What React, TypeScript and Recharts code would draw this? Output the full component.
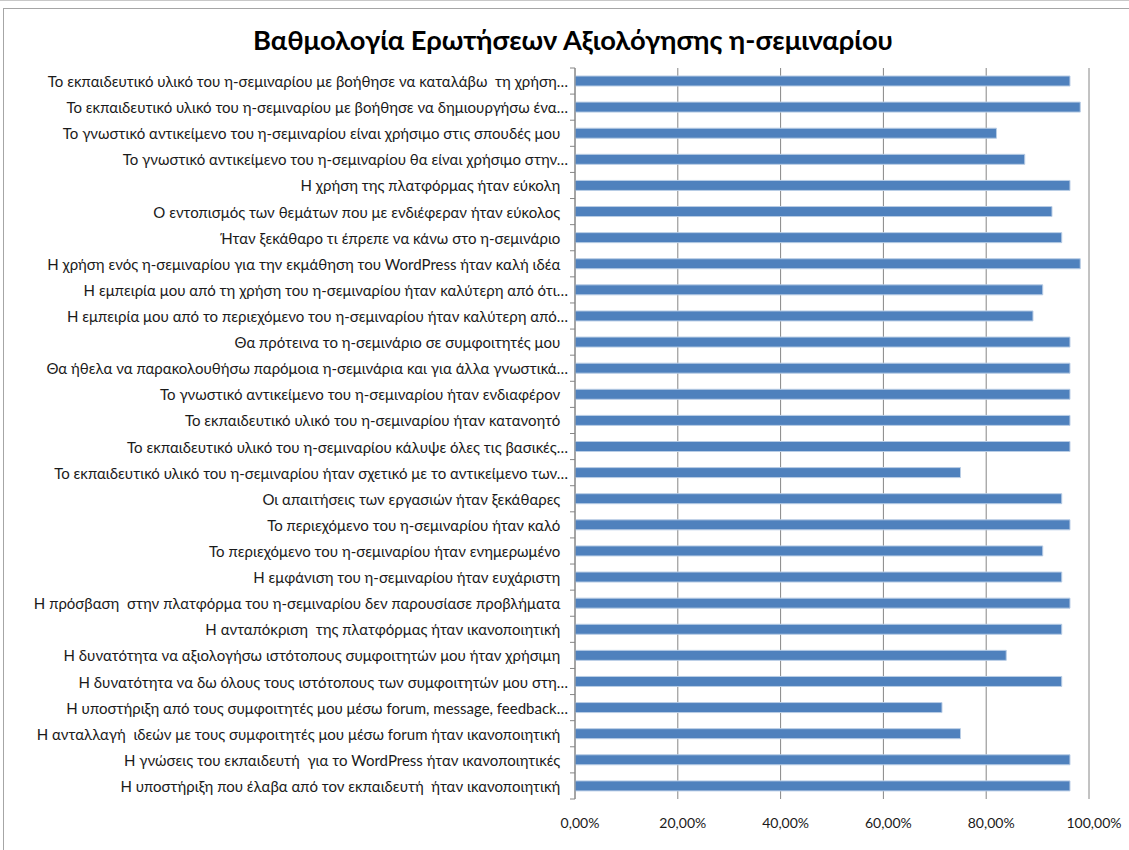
import { BarChart, Bar, XAxis, YAxis, CartesianGrid } from "recharts";

const categories = [
  "Το εκπαιδευτικό υλικό του η-σεμιναρίου με βοήθησε να καταλάβω  τη χρήση…",
  "Το εκπαιδευτικό υλικό του η-σεμιναρίου με βοήθησε να δημιουργήσω ένα…",
  "Το γνωστικό αντικείμενο του η-σεμιναρίου είναι χρήσιμο στις σπουδές μου\u00A0\u00A0",
  "Το γνωστικό αντικείμενο του η-σεμιναρίου θα είναι χρήσιμο στην…",
  "Η χρήση της πλατφόρμας ήταν εύκολη\u00A0\u00A0",
  "Ο εντοπισμός των θεμάτων που με ενδιέφεραν ήταν εύκολος\u00A0\u00A0",
  "Ήταν ξεκάθαρο τι έπρεπε να κάνω στο η-σεμινάριο\u00A0\u00A0",
  "Η χρήση ενός η-σεμιναρίου για την εκμάθηση του WordPress ήταν καλή ιδέα\u00A0\u00A0",
  "Η εμπειρία μου από τη χρήση του η-σεμιναρίου ήταν καλύτερη από ότι…",
  "Η εμπειρία μου από το περιεχόμενο του η-σεμιναρίου ήταν καλύτερη από…",
  "Θα πρότεινα το η-σεμινάριο σε συμφοιτητές μου\u00A0\u00A0",
  "Θα ήθελα να παρακολουθήσω παρόμοια η-σεμινάρια και για άλλα γνωστικά…",
  "Το γνωστικό αντικείμενο του η-σεμιναρίου ήταν ενδιαφέρον\u00A0\u00A0",
  "Το εκπαιδευτικό υλικό του η-σεμιναρίου ήταν κατανοητό\u00A0\u00A0",
  "Το εκπαιδευτικό υλικό του η-σεμιναρίου κάλυψε όλες τις βασικές…",
  "Το εκπαιδευτικό υλικό του η-σεμιναρίου ήταν σχετικό με το αντικείμενο των…",
  "Οι απαιτήσεις των εργασιών ήταν ξεκάθαρες\u00A0\u00A0",
  "Το περιεχόμενο του η-σεμιναρίου ήταν καλό\u00A0\u00A0",
  "Το περιεχόμενο του η-σεμιναρίου ήταν ενημερωμένο\u00A0\u00A0",
  "Η εμφάνιση του η-σεμιναρίου ήταν ευχάριστη\u00A0\u00A0",
  "Η πρόσβαση  στην πλατφόρμα του η-σεμιναρίου δεν παρουσίασε προβλήματα\u00A0\u00A0",
  "Η ανταπόκριση  της πλατφόρμας ήταν ικανοποιητική\u00A0\u00A0",
  "Η δυνατότητα να αξιολογήσω ιστότοπους συμφοιτητών μου ήταν χρήσιμη\u00A0\u00A0",
  "Η δυνατότητα να δω όλους τους ιστότοπους των συμφοιτητών μου στη…",
  "Η υποστήριξη από τους συμφοιτητές μου μέσω forum, message, feedback…",
  "Η ανταλλαγή  ιδεών με τους συμφοιτητές μου μέσω forum ήταν ικανοποιητική\u00A0\u00A0",
  "Η γνώσεις του εκπαιδευτή  για το WordPress ήταν ικανοποιητικές\u00A0\u00A0",
  "Η υποστήριξη που έλαβα από τον εκπαιδευτή  ήταν ικανοποιητική\u00A0\u00A0",
];

const scores = [
  0.963, 0.983, 0.82, 0.875, 0.963, 0.928, 0.947, 0.983, 0.91, 0.891,
  0.963, 0.963, 0.963, 0.963, 0.963, 0.75, 0.947, 0.963, 0.91, 0.947,
  0.963, 0.947, 0.839, 0.947, 0.714, 0.75, 0.963, 0.963,
];

const valueTicks = [0, 0.2, 0.4, 0.6, 0.8, 1];

const title = "Βαθμολογία Ερωτήσεων Αξιολόγησης η-σεμιναρίου";

const data = categories.map((name, i) => ({ name, score: scores[i] }));

const FONT = "Lato, 'Open Sans', sans-serif";
const AXIS_GRAY = "#868686";
const PLOT_TOP = 68;
const PLOT_BOTTOM = 799;
const AXIS_X = 575;
const band = (PLOT_BOTTOM - PLOT_TOP) / categories.length;

const pct = (v: number) => (v * 100).toFixed(2).replace(".", ",") + "%";

function CategoryTick(props: any) {
  const { y, payload, index } = props;
  return (
    <g>
      <text
        x={AXIS_X - 7}
        y={y}
        textAnchor="end"
        dominantBaseline="central"
        fontSize={15}
        fontFamily={FONT}
        fill="#1a1a1a"
        style={{ whiteSpace: "pre" }}
      >
        {payload.value}
      </text>
      <line x1={AXIS_X - 5} x2={AXIS_X} y1={y - band / 2} y2={y - band / 2} stroke={AXIS_GRAY} />
      {index === categories.length - 1 && (
        <line x1={AXIS_X - 5} x2={AXIS_X} y1={y + band / 2} y2={y + band / 2} stroke={AXIS_GRAY} />
      )}
    </g>
  );
}

function ValueTick(props: any) {
  const { x, payload } = props;
  return (
    <text
      x={x + 5}
      y={PLOT_BOTTOM + 23}
      textAnchor="middle"
      dominantBaseline="central"
      fontSize={14}
      fontFamily={FONT}
      fill="#1a1a1a"
    >
      {pct(payload.value)}
    </text>
  );
}

export default function App() {
  return (
    <div
      style={{
        position: "absolute",
        left: 0,
        top: 0,
        width: 1129,
        height: 850,
        overflow: "hidden",
        background: "#ffffff",
      }}
    >
      <div style={{ position: "absolute", left: 0, top: 0, width: 1129, height: 1, background: "#c8c8c8" }} />
      <div
        style={{
          position: "absolute",
          left: 3,
          top: 8,
          width: 1200,
          height: 900,
          border: "1px solid #a6a6a6",
        }}
      />
      <div
        style={{
          position: "absolute",
          left: 0,
          top: 22,
          width: 1146,
          textAlign: "center",
          fontFamily: FONT,
          fontWeight: 700,
          fontSize: 27.3,
          color: "#000",
          lineHeight: "36px",
        }}
      >
        {title}
      </div>
      <div style={{ position: "absolute", left: 0, top: 0 }}>
        <BarChart
          layout="vertical"
          width={1129}
          height={850}
          data={data}
          margin={{ top: PLOT_TOP, right: 1129 - 1089, bottom: 850 - PLOT_BOTTOM - 30, left: 0 }}
          barCategoryGap={0}
        >
          <CartesianGrid horizontal={false} stroke={AXIS_GRAY} strokeWidth={1} />
          <XAxis
            type="number"
            domain={[0, 1]}
            ticks={valueTicks}
            orientation="bottom"
            height={30}
            axisLine={false}
            tickLine={false}
            tick={<ValueTick />}
            interval={0}
          />
          <XAxis
            xAxisId="top"
            type="number"
            domain={[0, 1]}
            ticks={valueTicks}
            orientation="top"
            height={0}
            axisLine={{ stroke: AXIS_GRAY }}
            tickLine={{ stroke: AXIS_GRAY }}
            tickSize={5}
            tick={() => <g />}
            interval={0}
          />
          <YAxis
            type="category"
            dataKey="name"
            width={AXIS_X}
            axisLine={{ stroke: AXIS_GRAY }}
            tickLine={false}
            tick={<CategoryTick />}
            interval={0}
          />
          <Bar
            dataKey="score"
            fill="#4f81bd"
            stroke="#b9cde5"
            strokeWidth={1}
            barSize={10}
            isAnimationActive={false}
          />
        </BarChart>
      </div>
    </div>
  );
}
